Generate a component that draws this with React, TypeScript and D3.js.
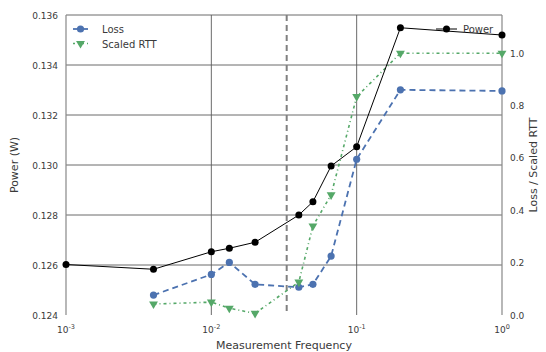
import { useEffect, useRef } from "react";
import * as d3 from "d3";

// measurement frequencies (x, log scale)
const freqs = [0.001, 0.004, 0.01, 0.0133, 0.02, 0.04, 0.05, 0.0667, 0.1, 0.2, 1.0];
// power in W, left axis
const power = [0.12602, 0.12583, 0.12653, 0.12667, 0.12691, 0.128, 0.12853, 0.12996, 0.13073, 0.13549, 0.1352];
// loss + scaled rtt, right axis (no value at 1e-3)
const lossFreqs = [0.004, 0.01, 0.0133, 0.02, 0.04, 0.05, 0.0667, 0.1, 0.2, 1.0];
const loss = [0.076, 0.155, 0.201, 0.117, 0.106, 0.117, 0.225, 0.595, 0.86, 0.856];
const scaledRtt = [0.042, 0.049, 0.026, 0.006, 0.126, 0.34, 0.459, 0.834, 1.0, 1.0];

const powerTicks = [0.124, 0.126, 0.128, 0.13, 0.132, 0.134, 0.136];
const rightTicks = [0, 0.2, 0.4, 0.6, 0.8, 1.0];
const xTicks = [-3, -2, -1, 0];
const markerFreq = 0.033;

const BLUE = "#4c72b0";
const GREEN = "#55a868";
const FONT = "DejaVu Sans, sans-serif";
const TXT = "#3a3a3a";

export default function App() {
  const svgRef = useRef<SVGSVGElement>(null);

  useEffect(() => {
    const width = 546;
    const height = 352;
    const margin = { top: 15, right: 44, bottom: 37, left: 66 };
    const innerW = width - margin.left - margin.right;
    const innerH = height - margin.top - margin.bottom;

    const svg = d3.select(svgRef.current).attr("width", width).attr("height", height);
    svg.selectAll("*").remove();
    svg.append("rect").attr("width", width).attr("height", height).attr("fill", "#fff");
    const g = svg.append("g").attr("transform", `translate(${margin.left},${margin.top})`);

    const x = d3.scaleLog().domain([0.001, 1]).range([0, innerW]);
    const yL = d3.scaleLinear().domain([0.124, 0.136]).range([innerH, 0]);
    const yR = d3.scaleLinear().domain([0, 1.146]).range([innerH, 0]);

    // grid
    powerTicks.slice(1).forEach((t) => {
      g.append("line")
        .attr("x1", 0).attr("x2", innerW)
        .attr("y1", yL(t)).attr("y2", yL(t))
        .attr("stroke", "#5a5a5a").attr("stroke-width", 0.9);
    });
    xTicks.slice(1, 3).forEach((e) => {
      g.append("line")
        .attr("x1", x(10 ** e)).attr("x2", x(10 ** e))
        .attr("y1", 0).attr("y2", innerH)
        .attr("stroke", "#5a5a5a").attr("stroke-width", 0.9);
    });

    // spines
    [0, innerW].forEach((sx) => {
      g.append("line")
        .attr("x1", sx).attr("x2", sx).attr("y1", 0).attr("y2", innerH)
        .attr("stroke", "#888").attr("stroke-width", 1.2);
    });

    // vertical marker
    g.append("line")
      .attr("x1", x(markerFreq)).attr("x2", x(markerFreq))
      .attr("y1", 0).attr("y2", innerH)
      .attr("stroke", "#808080").attr("stroke-width", 2)
      .attr("stroke-dasharray", "6 4");

    // tick labels
    powerTicks.forEach((t) => {
      g.append("text")
        .attr("x", -8).attr("y", yL(t) + 3.5)
        .attr("text-anchor", "end")
        .style("font-family", FONT).style("font-size", "9px").style("fill", TXT)
        .text(t.toFixed(3));
    });
    rightTicks.forEach((t) => {
      g.append("text")
        .attr("x", innerW + 8).attr("y", yR(t) + 3.5)
        .attr("text-anchor", "start")
        .style("font-family", FONT).style("font-size", "9px").style("fill", TXT)
        .text(t.toFixed(1));
    });
    xTicks.forEach((e) => {
      const t = g.append("text")
        .attr("x", x(10 ** e)).attr("y", innerH + 18)
        .attr("text-anchor", "middle")
        .style("font-family", FONT).style("font-size", "9px").style("fill", TXT);
      t.append("tspan").text("10");
      t.append("tspan").attr("dy", -4.5).style("font-size", "6.5px").text(`${e}`);
    });

    // axis titles
    g.append("text")
      .attr("x", innerW / 2).attr("y", innerH + 34)
      .attr("text-anchor", "middle")
      .style("font-family", FONT).style("font-size", "11px").style("fill", TXT)
      .text("Measurement Frequency");
    g.append("text")
      .attr("transform", `translate(${-48},${innerH / 2}) rotate(-90)`)
      .attr("text-anchor", "middle")
      .style("font-family", FONT).style("font-size", "11px").style("fill", TXT)
      .text("Power (W)");
    g.append("text")
      .attr("transform", `translate(${innerW + 35},${innerH / 2}) rotate(-90)`)
      .attr("text-anchor", "middle")
      .style("font-family", FONT).style("font-size", "11px").style("fill", TXT)
      .text("Loss / Scaled RTT");

    const tri = d3.symbol().type(d3.symbolTriangle).size(34);

    // loss
    const lossPts = lossFreqs.map((f, i) => [x(f), yR(loss[i])] as [number, number]);
    g.append("path")
      .attr("d", d3.line()(lossPts))
      .attr("fill", "none").attr("stroke", BLUE).attr("stroke-width", 1.8)
      .attr("stroke-dasharray", "6 4");
    lossPts.forEach(([px, py]) => {
      g.append("circle").attr("cx", px).attr("cy", py).attr("r", 3.6).attr("fill", BLUE);
    });

    // scaled rtt
    const rttPts = lossFreqs.map((f, i) => [x(f), yR(scaledRtt[i])] as [number, number]);
    g.append("path")
      .attr("d", d3.line()(rttPts))
      .attr("fill", "none").attr("stroke", GREEN).attr("stroke-width", 1.6)
      .attr("stroke-dasharray", "3 3 1 3");
    rttPts.forEach(([px, py]) => {
      g.append("path")
        .attr("d", tri)
        .attr("transform", `translate(${px},${py}) rotate(180)`)
        .attr("fill", GREEN);
    });

    // power
    const powPts = freqs.map((f, i) => [x(f), yL(power[i])] as [number, number]);
    g.append("path")
      .attr("d", d3.line()(powPts))
      .attr("fill", "none").attr("stroke", "#000").attr("stroke-width", 1);
    powPts.forEach(([px, py]) => {
      g.append("circle").attr("cx", px).attr("cy", py).attr("r", 3.5).attr("fill", "#000");
    });

    // legend left
    const leg = g.append("g").attr("transform", "translate(7,14)");
    leg.append("line").attr("x1", 0).attr("x2", 15).attr("stroke", BLUE).attr("stroke-width", 1.8);
    leg.append("circle").attr("cx", 7.5).attr("cy", 0).attr("r", 3.6).attr("fill", BLUE);
    leg.append("text").attr("x", 29).attr("y", 4)
      .style("font-family", FONT).style("font-size", "10px").style("fill", TXT).text("Loss");
    leg.append("line").attr("x1", 0).attr("x2", 15).attr("y1", 14.5).attr("y2", 14.5)
      .attr("stroke", GREEN).attr("stroke-width", 1.6).attr("stroke-dasharray", "2 3 1 3");
    leg.append("path").attr("d", tri).attr("transform", "translate(7.5,14.5) rotate(180)").attr("fill", GREEN);
    leg.append("text").attr("x", 29).attr("y", 18.5)
      .style("font-family", FONT).style("font-size", "10px").style("fill", TXT).text("Scaled RTT");

    // legend right
    const legR = g.append("g").attr("transform", `translate(${innerW - 66},14)`);
    legR.append("line").attr("x1", 0).attr("x2", 21).attr("stroke", "#000").attr("stroke-width", 1);
    legR.append("circle").attr("cx", 10.5).attr("cy", 0).attr("r", 3.5).attr("fill", "#000");
    legR.append("text").attr("x", 27).attr("y", 4)
      .style("font-family", FONT).style("font-size", "10px").style("fill", TXT).text("Power");
  }, []);

  return (
    <svg ref={svgRef} style={{ position: "absolute", left: 0, top: 0 }} />
  );
}
